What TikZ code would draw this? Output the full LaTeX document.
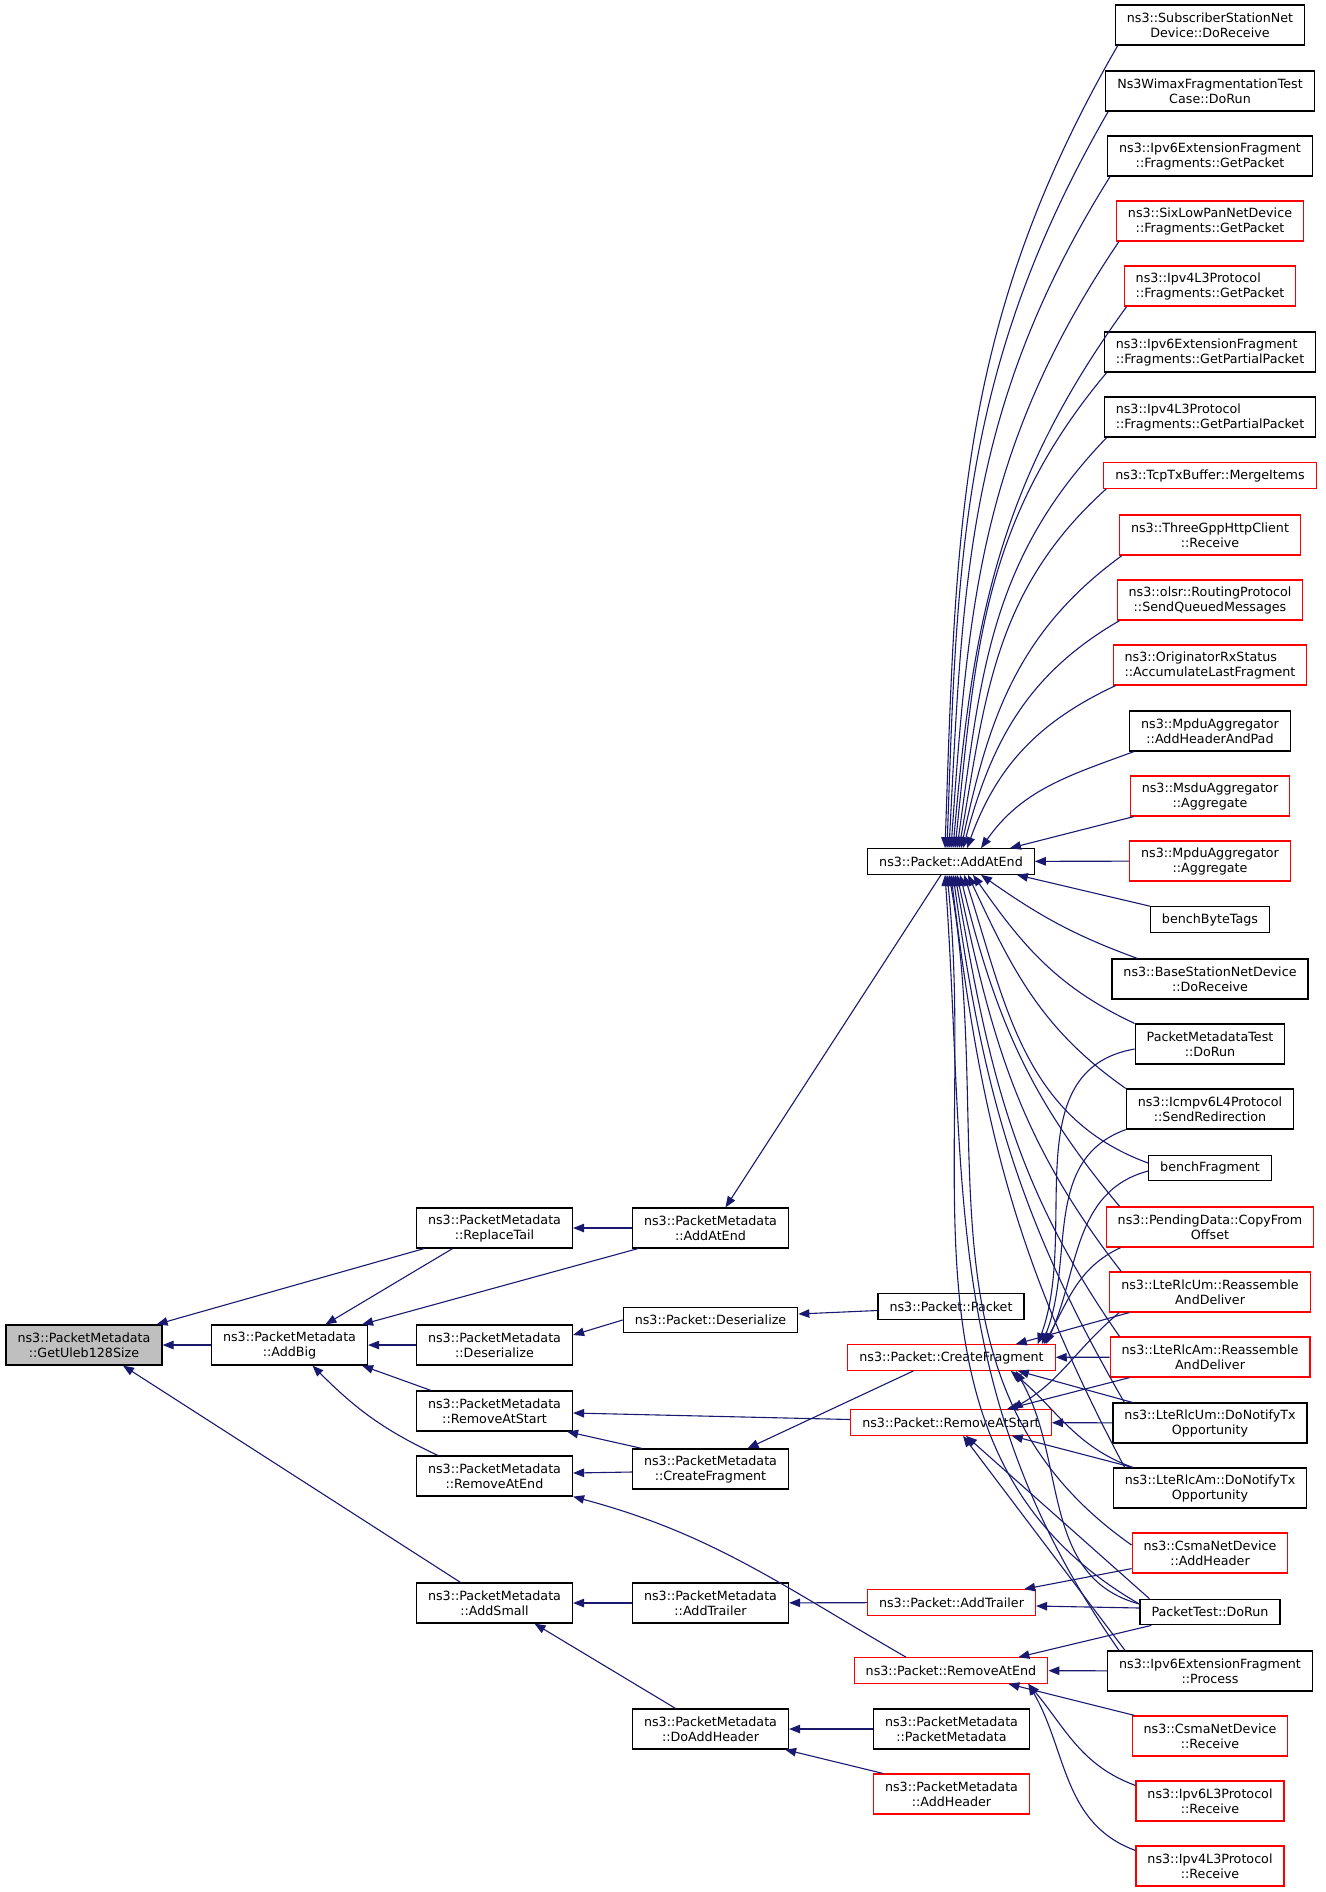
\documentclass[tikz,border=0pt]{standalone}
\usepackage{fontspec}
\setmainfont{DejaVu Sans}
\usetikzlibrary{arrows.meta}
\definecolor{edgeblue}{RGB}{25,25,112}
\definecolor{rootgrey}{RGB}{191,191,191}
\newcommand{\doxfont}{\fontsize{12.7}{15}\selectfont}
\tikzset{every picture/.style={line width=1pt}}
\tikzset{
  fn/.style={draw=black, line width=1.2pt, fill=white, align=center, inner xsep=11.5pt, inner ysep=2pt, minimum height=25.5pt, font=\doxfont},
  two/.style={minimum height=40pt},
  trunc/.style={draw=red},
  call/.style={draw=edgeblue, line width=1.1pt, -{Triangle[length=11pt,width=8.5pt]}},
}
\begin{document}
\begin{tikzpicture}[x=1pt,y=-1pt]
\useasboundingbox (0,0) rectangle (1325,1892);

% left part: ns3::PacketMetadata
\node[fn,two,fill=rootgrey] (uleb) at (84,1345) {ns3::PacketMetadata\\::GetUleb128Size};
\node[fn,two] (addbig) at (289.5,1345) {ns3::PacketMetadata\\::AddBig};
\node[fn,two] (replacetail) at (494.5,1228) {ns3::PacketMetadata\\::ReplaceTail};
\node[fn,two] (pmdeser) at (494.5,1345) {ns3::PacketMetadata\\::Deserialize};
\node[fn,two] (pmras) at (494.5,1411) {ns3::PacketMetadata\\::RemoveAtStart};
\node[fn,two] (pmrae) at (494.5,1476) {ns3::PacketMetadata\\::RemoveAtEnd};
\node[fn,two] (addsmall) at (494.5,1603) {ns3::PacketMetadata\\::AddSmall};
\node[fn,two] (pmaae) at (710.5,1228) {ns3::PacketMetadata\\::AddAtEnd};
\node[fn] (pdeser) at (710.5,1320) {ns3::Packet::Deserialize};
\node[fn,two] (pmcf) at (710.5,1469) {ns3::PacketMetadata\\::CreateFragment};
\node[fn,two] (pmat) at (710.5,1603) {ns3::PacketMetadata\\::AddTrailer};
\node[fn,two] (doah) at (710.5,1729) {ns3::PacketMetadata\\::DoAddHeader};

% middle part: ns3::Packet
\node[fn] (paae) at (951,861.5) {ns3::Packet::AddAtEnd};
\node[fn] (ppacket) at (951,1306.5) {ns3::Packet::Packet};
\node[fn,trunc] (pcf) at (951.5,1357.5) {ns3::Packet::CreateFragment};
\node[fn,trunc] (pras) at (951,1422.5) {ns3::Packet::RemoveAtStart};
\node[fn,trunc] (pat) at (951.5,1602.5) {ns3::Packet::AddTrailer};
\node[fn,trunc] (prae) at (951,1670.5) {ns3::Packet::RemoveAtEnd};
\node[fn,two] (pmpm) at (951.5,1729) {ns3::PacketMetadata\\::PacketMetadata};
\node[fn,two,trunc] (pmah) at (951.5,1794) {ns3::PacketMetadata\\::AddHeader};

% right column: callers
\node[fn,two] (sub) at (1210,25) {ns3::SubscriberStationNet\\Device::DoReceive};
\node[fn,two] (wimax) at (1210,91) {Ns3WimaxFragmentationTest\\Case::DoRun};
\node[fn,two] (ipv6gp) at (1210,156) {ns3::Ipv6ExtensionFragment\\::Fragments::GetPacket};
\node[fn,two,trunc] (sixlow) at (1210,221) {ns3::SixLowPanNetDevice\\::Fragments::GetPacket};
\node[fn,two,trunc,align=left] (ipv4gp) at (1210,286) {ns3::Ipv4L3Protocol\\::Fragments::GetPacket};
\node[fn,two,align=left] (ipv6gpp) at (1210,352) {ns3::Ipv6ExtensionFragment\\::Fragments::GetPartialPacket};
\node[fn,two,align=left] (ipv4gpp) at (1210,417) {ns3::Ipv4L3Protocol\\::Fragments::GetPartialPacket};
\node[fn,trunc] (tcp) at (1210,475.5) {ns3::TcpTxBuffer::MergeItems};
\node[fn,two,trunc] (threegpp) at (1210,535) {ns3::ThreeGppHttpClient\\::Receive};
\node[fn,two,trunc] (olsr) at (1210,600) {ns3::olsr::RoutingProtocol\\::SendQueuedMessages};
\node[fn,two,trunc,align=left] (orig) at (1210,665) {ns3::OriginatorRxStatus\\::AccumulateLastFragment};
\node[fn,two] (mpduahp) at (1210,731) {ns3::MpduAggregator\\::AddHeaderAndPad};
\node[fn,two,trunc] (msdu) at (1210,796) {ns3::MsduAggregator\\::Aggregate};
\node[fn,two,trunc] (mpduagg) at (1210,861) {ns3::MpduAggregator\\::Aggregate};
\node[fn] (bbt) at (1210,919.5) {benchByteTags};
\node[fn,two] (bsnd) at (1210,979) {ns3::BaseStationNetDevice\\::DoReceive};
\node[fn,two] (pmtest) at (1210,1044) {PacketMetadataTest\\::DoRun};
\node[fn,two] (icmp) at (1210,1109) {ns3::Icmpv6L4Protocol\\::SendRedirection};
\node[fn] (bfrag) at (1210,1168) {benchFragment};
\node[fn,two,trunc] (pending) at (1210,1227) {ns3::PendingData::CopyFrom\\Offset};
\node[fn,two,trunc] (umra) at (1210,1292) {ns3::LteRlcUm::Reassemble\\AndDeliver};
\node[fn,two,trunc] (amra) at (1210,1357) {ns3::LteRlcAm::Reassemble\\AndDeliver};
\node[fn,two] (umnt) at (1210,1423) {ns3::LteRlcUm::DoNotifyTx\\Opportunity};
\node[fn,two] (amnt) at (1210,1488) {ns3::LteRlcAm::DoNotifyTx\\Opportunity};
\node[fn,two,trunc] (csmaah) at (1210,1553) {ns3::CsmaNetDevice\\::AddHeader};
\node[fn] (ptest) at (1210,1612) {PacketTest::DoRun};
\node[fn,two] (ipv6proc) at (1210,1671) {ns3::Ipv6ExtensionFragment\\::Process};
\node[fn,two,trunc] (csmarecv) at (1210,1736) {ns3::CsmaNetDevice\\::Receive};
\node[fn,two,trunc] (ipv6recv) at (1210,1801) {ns3::Ipv6L3Protocol\\::Receive};
\node[fn,two,trunc] (ipv4recv) at (1210,1866) {ns3::Ipv4L3Protocol\\::Receive};

% edges into the PacketMetadata functions
\draw[call] (addbig) -- (uleb);
\draw[call] ([xshift=8pt]replacetail.south west) -- ([xshift=-6pt]uleb.north east);
\draw[call] ([xshift=-34pt]addsmall.north) -- ([xshift=39pt]uleb.south);
\draw[call] ([xshift=-42pt]replacetail.south) -- ([xshift=36pt]addbig.north);
\draw[call] ([xshift=6pt]pmaae.south west) -- ([xshift=-6pt]addbig.north east);
\draw[call] (pmdeser) -- (addbig);
\draw[call] ([xshift=15pt]pmras.north west) -- ([xshift=-6pt]addbig.south east);
\draw[call] ([xshift=22pt]pmrae.north west) to[out=155, in=-45] ([xshift=23pt]addbig.south);
\draw[call] (pmaae) -- (replacetail);
\draw[call] ([xshift=-10pt]paae.south) -- ([xshift=15pt]pmaae.north);
\draw[call] (pdeser.west) -- ([yshift=10pt]pmdeser.east);
\draw[call] ([yshift=-4pt]ppacket.west) -- ([yshift=6pt]pdeser.east);
\draw[call] ([yshift=3pt]pras.west) -- ([yshift=-2pt]pmras.east);
\draw[call] ([xshift=10pt]pmcf.north west) -- ([xshift=-6pt]pmras.south east);
\draw[call] ([yshift=-3pt]pmcf.west) -- ([yshift=3pt]pmrae.east);
\draw[call] ([xshift=-38pt]pcf.south) -- ([xshift=37pt]pmcf.north);
\draw[call] ([xshift=-45pt]prae.north) to[out=150, in=-15] (pmrae.south east);
\draw[call] (pmat) -- (addsmall);
\draw[call] ([xshift=-35pt]doah.north) -- ([xshift=40pt]addsmall.south);
\draw[call] (pat) -- (pmat);
\draw[call] (pmpm) -- (doah);
\draw[call] ([xshift=10pt]pmah.north west) -- ([xshift=-4pt]doah.south east);

% callers of ns3::Packet::AddAtEnd
\foreach \src/\dx/\o/\i in {sub/-6/240/88, wimax/-4/240/88, ipv6gp/-2/238/87, sixlow/0/236/86, ipv4gp/2/234/85, ipv6gpp/4/230/84, ipv4gpp/6/226/82, tcp/8/222/80, threegpp/10/216/78, olsr/12/210/75, orig/16/205/70}
  \draw[call] ([xshift=3pt]\src.south west) to[out=\o, in=\i] ([xshift=\dx pt]paae.north);
\draw[call] ([xshift=5pt]mpduahp.south west) to[out=200, in=55] ([xshift=30pt]paae.north);
\draw[call] ([xshift=4pt]msdu.south west) -- ([xshift=-25pt]paae.north east);
\draw[call] (mpduagg) -- (paae);
\draw[call] (bbt.north west) -- ([xshift=-18pt]paae.south east);
\draw[call] ([xshift=26pt]bsnd.north west) to[out=160, in=-35] ([xshift=30pt]paae.south);
\draw[call] (pmtest.north west) to[out=155, in=-55] ([xshift=22pt]paae.south);
\draw[call] (icmp.north west) to[out=145, in=-65] ([xshift=17pt]paae.south);
\draw[call] ([yshift=5pt]bfrag.west) to[out=160, in=-72] ([xshift=13pt]paae.south);
\draw[call] ([xshift=14pt]pending.north west) to[out=130, in=-76] ([xshift=9pt]paae.south);
\draw[call] ([xshift=12pt]umra.north west) to[out=128, in=-78] ([xshift=6pt]paae.south);
\draw[call] ([xshift=10pt]amra.north west) to[out=125, in=-80] ([xshift=4pt]paae.south);
\draw[call] ([xshift=12pt]umnt.north west) to[out=120, in=-82] ([xshift=2pt]paae.south);
\draw[call] ([xshift=12pt]amnt.north west) to[out=118, in=-83] (paae.south);
\draw[call] ([yshift=8pt]csmaah.west) to[out=145, in=-80] ([xshift=-2pt]paae.south);
\draw[call] ([yshift=8pt]ptest.west) to[out=150, in=-84] ([xshift=-4pt]paae.south);
\draw[call] ([xshift=12pt]ipv6proc.north west) to[out=125, in=-86] ([xshift=-6pt]paae.south);

% callers of ns3::Packet::CreateFragment
\draw[call] ([yshift=-5pt]pmtest.west) to[out=190, in=70] ([xshift=-18pt]pcf.north east);
\draw[call] (icmp.south west) to[out=200, in=68] ([xshift=-14pt]pcf.north east);
\draw[call] ([yshift=-3pt]bfrag.west) to[out=195, in=65] ([xshift=-10pt]pcf.north east);
\draw[call] ([xshift=15pt]pending.south west) to[out=205, in=60] ([xshift=-12pt]pcf.north east);
\draw[call] ([xshift=20pt]umra.south west) -- ([xshift=-40pt]pcf.north east);
\draw[call] (amra) -- (pcf);
\draw[call] ([xshift=20pt]umnt.north west) -- ([xshift=-38pt]pcf.south east);
\draw[call] ([xshift=20pt]amnt.north west) to[out=160, in=-40] ([xshift=-45pt]pcf.south east);
\draw[call] ([yshift=8pt]ptest.west) to[out=165, in=-60] ([xshift=-40pt]pcf.south east);

% callers of ns3::Packet::RemoveAtStart
\draw[call] ([xshift=10pt]umra.south west) to[out=220, in=30] ([xshift=-40pt]pras.north east);
\draw[call] ([xshift=20pt]amra.south west) -- ([xshift=-45pt]pras.north east);
\draw[call] (umnt) -- (pras);
\draw[call] ([xshift=20pt]amnt.north west) -- ([xshift=-40pt]pras.south east);
\draw[call] ([xshift=10pt]ptest.north west) -- ([xshift=15pt]pras.south);
\draw[call] ([xshift=18pt]ipv6proc.north west) -- ([xshift=12pt]pras.south);

% callers of ns3::Packet::AddTrailer
\draw[call] ([yshift=5pt]csmaah.south west) -- ([xshift=-12pt]pat.north east);
\draw[call] ([yshift=4pt]ptest.west) -- ([yshift=-3.5pt]pat.east);

% callers of ns3::Packet::RemoveAtEnd
\draw[call] ([xshift=12pt]ptest.south west) -- ([xshift=-30pt]prae.north east);
\draw[call] (ipv6proc) -- (prae);
\draw[call] ([xshift=3pt]csmarecv.north west) -- ([xshift=-40pt]prae.south east);
\draw[call] ([yshift=-5pt]ipv6recv.north west) to[out=160, in=-50] ([xshift=-20pt]prae.south east);
\draw[call] ([yshift=-5pt]ipv4recv.north west) to[out=160, in=-60] ([xshift=-20pt]prae.south east);

\end{tikzpicture}
\end{document}
